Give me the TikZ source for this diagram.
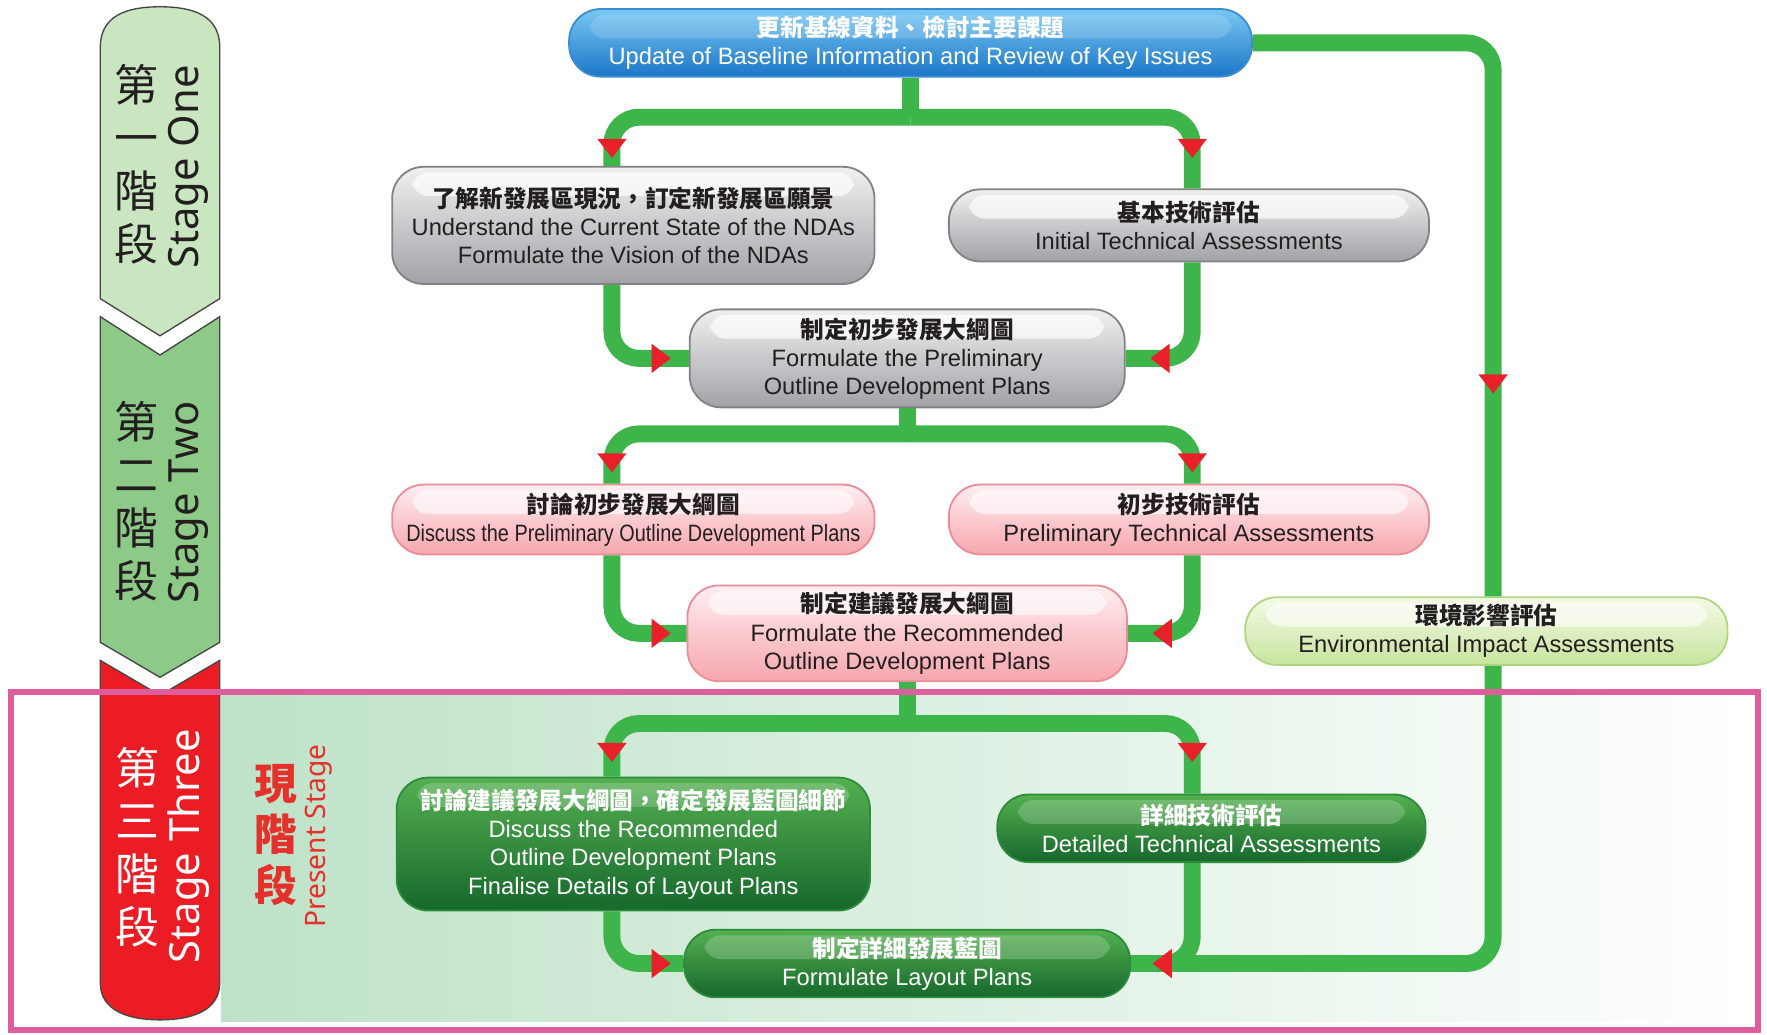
\documentclass[tikz,border=0pt]{standalone}
\usepackage{fontspec}
\setmainfont{Liberation Sans}
\newfontfamily\cjk{Noto Sans CJK TC}
\newfontfamily\stagefont{Noto Sans}
\newfontfamily\narrowfont{Liberation Sans}[FakeStretch=0.84]
\usetikzlibrary{positioning,arrows.meta,calc,decorations.markings}

\definecolor{flowgreen}{RGB}{61,181,74}
\definecolor{tipred}{RGB}{232,32,42}
\definecolor{stageone}{RGB}{201,230,193}
\definecolor{stagetwo}{RGB}{141,202,135}
\definecolor{stagethree}{RGB}{236,28,36}
\definecolor{stageline}{RGB}{70,70,70}
\definecolor{framepink}{RGB}{222,93,157}
\definecolor{bggreen}{RGB}{190,226,200}
\definecolor{presentred}{RGB}{229,49,43}
\definecolor{bluetop}{RGB}{120,200,242}
\definecolor{bluebot}{RGB}{28,118,200}
\definecolor{blueline}{RGB}{60,140,210}
\definecolor{greytop}{RGB}{240,240,241}
\definecolor{greybot}{RGB}{160,162,166}
\definecolor{greyline}{RGB}{130,130,134}
\definecolor{pinktop}{RGB}{255,238,240}
\definecolor{pinkbot}{RGB}{246,166,174}
\definecolor{pinkline}{RGB}{236,140,150}
\definecolor{paletop}{RGB}{244,250,230}
\definecolor{palebot}{RGB}{200,228,158}
\definecolor{paleline}{RGB}{176,214,130}
\definecolor{darktop}{RGB}{84,176,80}
\definecolor{darkbot}{RGB}{22,104,44}
\definecolor{darkline}{RGB}{45,140,60}
\definecolor{inktext}{RGB}{35,31,32}

\begin{document}
\begin{tikzpicture}[
  x=0.5pt, y=-0.5pt,
  box/.style={draw, line width=0.8pt, rounded corners=14pt, align=center, inner sep=2pt,
    font=\fontsize{10.5}{12.5}\selectfont},
  gloss/.style={path picture={\fill[white, opacity=#1, rounded corners=7pt]
    ([xshift=9pt, yshift=-2.5pt]path picture bounding box.north west) rectangle
    ([xshift=-9pt, yshift=-13pt]path picture bounding box.north east);}},
  bluebox/.style={box, draw=blueline, top color=bluetop, bottom color=bluebot, text=white, gloss=0.15},
  greybox/.style={box, draw=greyline, top color=greytop, bottom color=greybot, text=inktext, gloss=0.7},
  pinkbox/.style={box, draw=pinkline, top color=pinktop, bottom color=pinkbot, text=inktext, gloss=0.6},
  palebox/.style={box, draw=paleline, top color=paletop, bottom color=palebot, text=inktext, gloss=0.6},
  darkbox/.style={box, draw=darkline, top color=darktop, bottom color=darkbot, text=white, gloss=0.2},
  stagecn/.style={align=center, inner sep=0pt, font=\cjk\fontsize{19.5}{23.5}\selectfont},
  stageen/.style={rotate=90, inner sep=0pt, font=\stagefont\fontsize{18.5}{20}\selectfont},
  flow/.style={draw=flowgreen, line width=7.5pt, rounded corners=12pt},
  redhead/.style={postaction={decorate, decoration={markings, mark=at position -#1 with
    {\arrow{Triangle[length=8.5pt, width=13pt, color=tipred, fill=tipred, line width=0pt]}}}}}
]
\useasboundingbox (0,0) rectangle (1568,918);

% Present stage background
\shade[left color=bggreen, right color=white] (196,617) rectangle (1558,906);

% Stage bars on the left
\filldraw[fill=stageone, draw=stageline, line width=0.6pt]
  (89,265) -- (89,42) .. controls (89,14) and (112,6) .. (142,6)
  .. controls (172,6) and (195,14) .. (195,42) -- (195,265) -- (142,298) -- cycle;
\filldraw[fill=stagetwo, draw=stageline, line width=0.6pt]
  (89,281) -- (142,315) -- (195,281) -- (195,570) -- (142,601) -- (89,570) -- cycle;
\filldraw[fill=stagethree, draw=stageline, line width=0.6pt]
  (89,586) -- (142,617) -- (195,586) -- (195,872) .. controls (195,897) and (170,905) .. (142,905)
  .. controls (114,905) and (89,897) .. (89,872) -- cycle;

\node[stagecn, text=inktext] (cnone) at (121,146) {第\\一\\階\\段};
\node[stageen, text=inktext] (enone) at (167,148) {Stage One};
\node[stagecn, text=inktext] (cntwo) at (121,445) {第\\二\\階\\段};
\node[stageen, text=inktext] (entwo) at (167,446) {Stage Two};
\node[stagecn, text=white] (cnthree) at (122,752) {第\\三\\階\\段};
\node[stageen, text=white] (enthree) at (167,751) {Stage Three};

% Present stage label
\node[align=center, inner sep=0pt, text=presentred, font=\cjk\bfseries\fontsize{19}{22.5}\selectfont]
  (cnnow) at (245,741) {現\\階\\段};
\node[rotate=90, inner sep=0pt, text=presentred, font=\stagefont\fontsize{12.5}{14}\selectfont]
  (ennow) at (283,742) {Present Stage};

% Steps of the study
\node[bluebox, minimum width=303pt, minimum height=30pt] (update) at (808,38)
  {{\cjk\bfseries 更新基線資料、檢討主要課題}\\Update of Baseline Information and Review of Key Issues};
\node[greybox, minimum width=214pt, minimum height=52pt] (vision) at (562,200)
  {{\cjk\bfseries 了解新發展區現況，訂定新發展區願景}\\Understand the Current State of the NDAs\\Formulate the Vision of the NDAs};
\node[greybox, minimum width=213pt, minimum height=32pt] (initass) at (1055,200)
  {{\cjk\bfseries 基本技術評估}\\Initial Technical Assessments};
\node[greybox, minimum width=193pt, minimum height=43.5pt] (prelodp) at (805,318)
  {{\cjk\bfseries 制定初步發展大綱圖}\\Formulate the Preliminary\\Outline Development Plans};
\node[pinkbox, minimum width=214pt, minimum height=31pt] (discprel) at (562,461)
  {{\cjk\bfseries 討論初步發展大綱圖}\\{\narrowfont Discuss the Preliminary Outline Development Plans}};
\node[pinkbox, minimum width=213pt, minimum height=31pt] (prelass) at (1055,461)
  {{\cjk\bfseries 初步技術評估}\\Preliminary Technical Assessments};
\node[pinkbox, minimum width=195pt, minimum height=42.5pt] (recodp) at (805,562)
  {{\cjk\bfseries 制定建議發展大綱圖}\\Formulate the Recommended\\Outline Development Plans};
\node[palebox, minimum width=214pt, minimum height=30pt] (eia) at (1319,560)
  {{\cjk\bfseries 環境影響評估}\\Environmental Impact Assessments};
\node[darkbox, minimum width=210pt, minimum height=59pt] (discrec) at (562,749)
  {{\cjk\bfseries 討論建議發展大綱圖，確定發展藍圖細節}\\Discuss the Recommended\\Outline Development Plans\\Finalise Details of Layout Plans};
\node[darkbox, minimum width=190pt, minimum height=30pt] (detass) at (1075,735)
  {{\cjk\bfseries 詳細技術評估}\\Detailed Technical Assessments};
\node[darkbox, minimum width=198pt, minimum height=30pt] (layout) at (805,855)
  {{\cjk\bfseries 制定詳細發展藍圖}\\Formulate Layout Plans};

% Rails
\coordinate (lx) at (543,0);
\coordinate (rx) at (1058,0);
\coordinate (ex) at (1325,0);
\coordinate (r1) at (808,104);
\coordinate (r2) at (805,385);
\coordinate (r3) at (805,642);

% Environmental impact branch
\draw[flow, redhead=90pt] (update.east) -| (eia.north -| ex);
\draw[flow] (eia.south -| ex) |- (layout.east);

% Stage one
\draw[flow, rounded corners=0pt] (update.south) -- (r1);
\draw[flow, redhead=3.5pt] (r1) -| (vision.north -| lx);
\draw[flow, redhead=13.5pt] (r1) -| (initass.north -| rx);
\draw[flow, redhead=8pt] (vision.south -| lx) |- (prelodp.west);
\draw[flow, redhead=11pt] (initass.south -| rx) |- (prelodp.east);

% Stage two
\draw[flow, rounded corners=0pt] (prelodp.south) -- (r2);
\draw[flow, redhead=5pt] (r2) -| (discprel.north -| lx);
\draw[flow, redhead=5pt] (r2) -| (prelass.north -| rx);
\draw[flow, redhead=7pt] (discprel.south -| lx) |- (recodp.west);
\draw[flow, redhead=11pt] (prelass.south -| rx) |- (recodp.east);

% Stage three
\draw[flow, rounded corners=0pt] (recodp.south) -- (r3);
\draw[flow, redhead=6.5pt] (r3) -| (discrec.north -| lx);
\draw[flow, redhead=14pt] (r3) -| (detass.north -| rx);
\draw[flow, redhead=5.5pt] (discrec.south -| lx) |- (layout.west);
\draw[flow, redhead=9.5pt] (detass.south -| rx) |- (layout.east);

% Present stage frame
\draw[framepink, line width=2.8pt] (9.5,614) rectangle (1560,914);
\end{tikzpicture}
\end{document}
